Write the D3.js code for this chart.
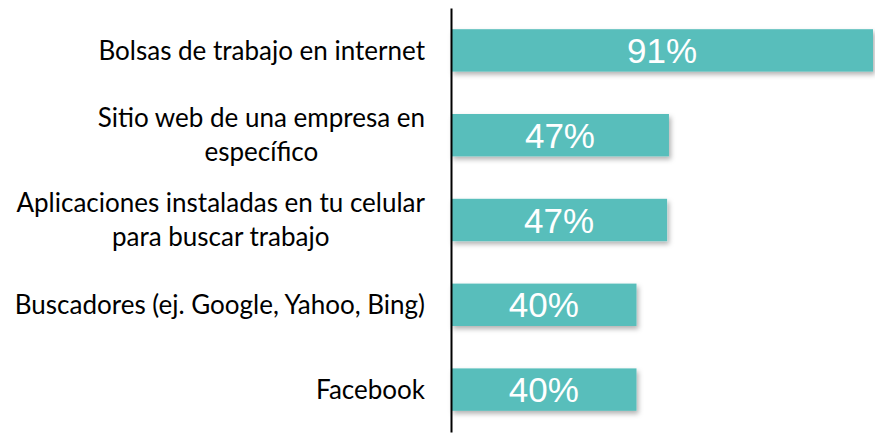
<!DOCTYPE html>
<html>
<head>
<meta charset="utf-8">
<script src="https://cdn.jsdelivr.net/npm/d3@7"></script>
<style>
  body { margin: 0; background: #fff; }
</style>
</head>
<body>
<div id="chart"></div>
<script>
// categories (line breaks as in the original labels)
const categories = [
    "Bolsas de trabajo en internet",
    "Sitio web de una empresa en\nespecífico",
    "Aplicaciones instaladas en tu celular\npara buscar trabajo",
    "Buscadores (ej. Google, Yahoo, Bing)",
    "Facebook"
];
const values = [91, 47, 46.6, 40, 40];
const valueLabels = ["91%", "47%", "47%", "40%", "40%"];

const data = categories.map((c, i) => ({cat: c, value: values[i], label: valueLabels[i]}));

let width = 875, height = 433;
let margin = {top: 8, right: 2, bottom: 1, left: 451};

let svg = d3.select("#chart").append("svg")
    .attr("width", width)
    .attr("height", height);

// soft shadow under the bars
let defs = svg.append("defs");
let filter = defs.append("filter").attr("id", "shadow")
    .attr("x", "-5%").attr("y", "-20%").attr("width", "115%").attr("height", "160%");
filter.append("feDropShadow")
    .attr("dx", 2).attr("dy", 3)
    .attr("stdDeviation", 2.5)
    .attr("flood-color", "#000")
    .attr("flood-opacity", 0.3);

let x = d3.scaleLinear()
    .domain([0, 91])
    .range([margin.left, width - margin.right]);

let y = d3.scaleBand()
    .domain(categories)
    .range([margin.top, height - margin.bottom])
    .paddingInner(0.5)
    .paddingOuter(0.25);

//Bars
svg.append("g")
    .selectAll("rect")
    .data(data)
    .enter().append("rect")
    .attr("x", x(0))
    .attr("y", d => y(d.cat))
    .attr("width", d => x(d.value) - x(0))
    .attr("height", y.bandwidth())
    .attr("fill", "#59bebb")
    .attr("filter", "url(#shadow)");

//Value labels inside bars
svg.append("g")
    .selectAll("text")
    .data(data)
    .enter().append("text")
    .attr("x", d => (x(0) + x(d.value)) / 2)
    .attr("y", d => y(d.cat) + y.bandwidth() / 2)
    .attr("dy", "0.36em")
    .attr("text-anchor", "middle")
    .style("font-family", "'Liberation Sans', Arial, sans-serif")
    .style("font-size", "35px")
    .style("fill", "#fff")
    .text(d => d.label);

//Y axis: only the black line, labels drawn below
let yAxis = svg.append("g")
    .attr("transform", "translate(" + x(0) + ",0)")
    .call(d3.axisLeft(y).tickSize(0).tickSizeOuter(0).tickFormat(""));
yAxis.select(".domain").attr("stroke", "#000").attr("stroke-width", 2);
yAxis.selectAll(".tick text").remove();

//Category labels, centered lines in a right aligned block
let labelRight = 425;
let lineHeight = 34;
let labels = svg.append("g")
    .selectAll("text")
    .data(categories)
    .enter().append("text")
    .style("font-family", "Lato, 'Open Sans', sans-serif")
    .style("font-size", "26px")
    .style("fill", "#000")
    .attr("text-anchor", "middle");

labels.each(function(d) {
    let lines = d.split("\n");
    let t = d3.select(this);
    let cy = y(d) + y.bandwidth() / 2;
    lines.forEach((ln, i) => {
        t.append("tspan")
            .attr("y", cy + (i - (lines.length - 1) / 2) * lineHeight)
            .attr("dy", "0.35em")
            .text(ln);
    });
    let w = d3.max(t.selectAll("tspan").nodes(), n => n.getComputedTextLength());
    t.selectAll("tspan").attr("x", labelRight - w / 2);
});
</script>
</body>
</html>
